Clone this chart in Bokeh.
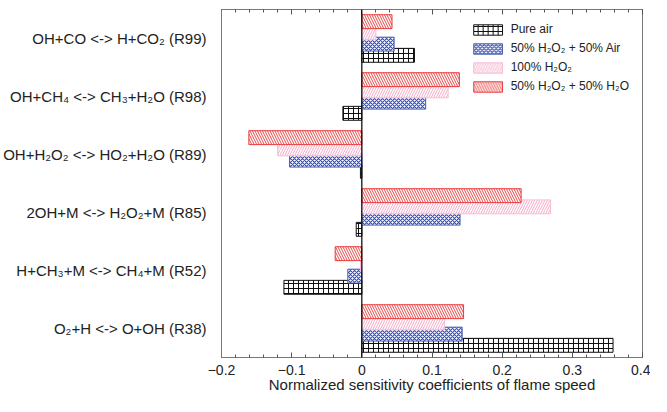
from bokeh.plotting import figure
from bokeh.models import (ColumnDataSource, FactorRange, FixedTicker, LinearAxis, Span, Range1d,
                          Legend, LegendItem, CustomLabelingPolicy)
from bokeh.transform import dodge
from bokeh.embed import file_html
from bokeh.resources import INLINE

# ---- data (bottom to top) ----
reactions = [
    "O\u2082+H <-> O+OH (R38)",
    "H+CH\u2083+M <-> CH\u2084+M (R52)",
    "2OH+M <-> H\u2082O\u2082+M (R85)",
    "OH+H\u2082O\u2082 <-> HO\u2082+H\u2082O (R89)",
    "OH+CH\u2084 <-> CH\u2083+H\u2082O (R98)",
    "OH+CO <-> H+CO\u2082 (R99)",
]
pure_air   = [0.358, -0.111, -0.008, -0.002, -0.027, 0.075]
h2o2_air   = [0.143, -0.020, 0.140, -0.103, 0.091, 0.046]
h2o2_100   = [0.118, -0.002, 0.269, -0.120, 0.123, 0.020]
h2o2_h2o   = [0.145, -0.038, 0.227, -0.161, 0.139, 0.043]

series_labels = ["Pure air", "50% H\u2082O\u2082 + 50% Air", "100% H\u2082O\u2082",
                 "50% H\u2082O\u2082 + 50% H\u2082O"]
x_ticks = [-0.2, -0.1, 0.0, 0.1, 0.2, 0.3, 0.4]
x_label = "Normalized sensitivity coefficients of flame speed"

src = ColumnDataSource(dict(reaction=reactions, pure_air=pure_air, h2o2_air=h2o2_air,
                            h2o2_100=h2o2_100, h2o2_h2o=h2o2_h2o))

FONT = "Liberation Sans"

p = figure(width=650, height=401, y_range=FactorRange(factors=reactions),
           x_range=Range1d(-0.2, 0.4), output_backend="svg", toolbar_location=None,
           min_border_left=221, min_border_right=8, min_border_top=9, min_border_bottom=44)
p.xgrid.visible = False
p.ygrid.visible = False
p.outline_line_color = "#777777"
p.background_fill_color = "white"

styles = [
    ("pure_air", -0.29, dict(line_color="#111111", hatch_pattern="+", hatch_color="#111111", hatch_scale=5)),
    ("h2o2_air", -0.097, dict(line_color="#4a5fb0", hatch_pattern="x", hatch_color="#3a50a8", hatch_scale=4, hatch_weight=1.2)),
    ("h2o2_100", 0.097, dict(line_color="#f7bcd4", hatch_pattern="/", hatch_color="#f5a8c8", hatch_scale=5)),
    ("h2o2_h2o", 0.29, dict(line_color="#e83a3a", hatch_pattern="\\", hatch_color="#e84848", hatch_scale=5)),
]
renderers = []
for col, off, st in styles:
    r = p.hbar(y=dodge("reaction", off, range=p.y_range), left=0, right=col, height=0.24,
               source=src, fill_color="white", line_width=1, **st)
    renderers.append(r)

p.add_layout(Span(location=0, dimension="height", line_color="black", line_width=1.2))

minor = [round(-0.2 + 0.02 * i, 2) for i in range(31)]
ticker = FixedTicker(ticks=x_ticks, minor_ticks=minor)

xa = p.xaxis[0]
xa.ticker = ticker
xa.major_label_overrides = {0: "0"}
xa.axis_label = x_label
xa.axis_label_text_font = FONT
xa.axis_label_text_font_style = "normal"
xa.axis_label_text_font_size = "15px"
xa.axis_label_text_color = "#222222"
xa.axis_label_standoff = -2
xa.major_label_text_font = FONT
xa.major_label_text_font_size = "14px"
xa.major_label_text_color = "#222222"
xa.major_label_standoff = 7
xa.axis_line_color = "#777777"
xa.major_tick_in = 5
xa.major_tick_out = 0
xa.minor_tick_in = 3
xa.minor_tick_out = 0
xa.major_tick_line_color = "#555555"
xa.minor_tick_line_color = "#555555"

no_labels = CustomLabelingPolicy(code="""
for (const i of indices) indices.unset(i)
return indices
""")
top = LinearAxis(ticker=ticker, major_label_policy=no_labels, major_label_standoff=0,
                 major_label_text_font_size="1px",
                 major_tick_in=5, major_tick_out=0, minor_tick_in=3, minor_tick_out=0,
                 axis_line_color="#777777", major_tick_line_color="#555555",
                 minor_tick_line_color="#555555")
p.add_layout(top, "above")

ya = p.yaxis[0]
ya.major_tick_line_color = None
ya.minor_tick_line_color = None
ya.axis_line_color = "#777777"
ya.major_label_text_font = FONT
ya.major_label_text_font_size = "15px"
ya.major_label_text_color = "#222222"
ya.major_label_standoff = 9

legend = Legend(items=[LegendItem(label=lab, renderers=[r]) for lab, r in zip(series_labels, renderers)],
                location="top_right")
legend.border_line_color = None
legend.background_fill_alpha = 0
legend.label_text_font = FONT
legend.label_text_font_size = "12px"
legend.label_text_color = "#222222"
legend.glyph_width = 36
legend.glyph_height = 13
legend.label_height = 13
legend.spacing = 5
legend.padding = 2
legend.margin = 13
legend.label_standoff = 5
p.add_layout(legend)

open("out.html", "w").write(file_html(p, INLINE))
